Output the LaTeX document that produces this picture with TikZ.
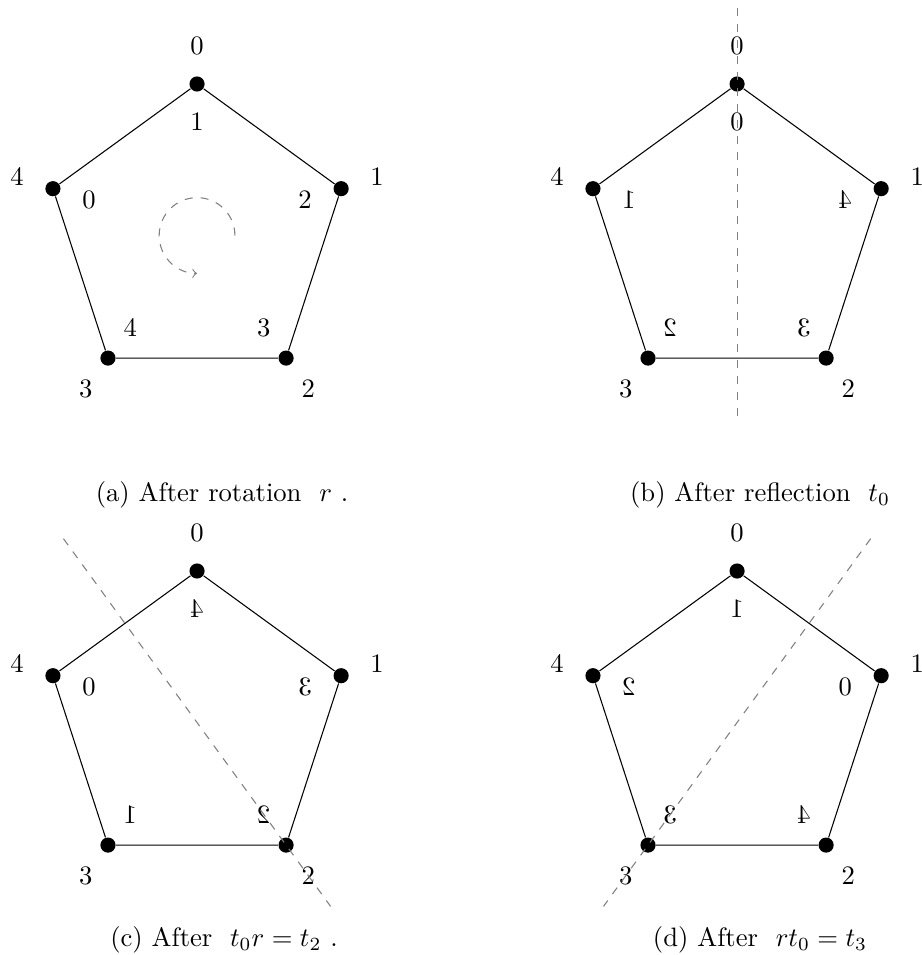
\documentclass[tikz,border=0pt]{standalone}
\begin{document}
\begin{tikzpicture}[
  vdot/.style={circle, fill=black, inner sep=0pt, minimum size=0.2cm},
  lab/.style={inner sep=0pt},
  mir/.style={inner sep=0pt, xscale=-1},
  axisline/.style={gray, dashed},
  pedge/.style={black},
  captext/.style={inner sep=0pt},
]
\useasboundingbox (-2.601,3.109) rectangle (9.558,-9.498);

% vertices, outer labels and edges of the four pentagons
\foreach \p/\sx/\sy in {a/0/0, b/7.129/0, c/0/-6.429, d/7.129/-6.429} {
  \begin{scope}[shift={(\sx,\sy)}]
    \foreach \k in {0,...,4} {
      \node[vdot] (\p\k) at ({90-72*\k}:2) {};
      \node[lab] (\p o\k) at ({90-72*\k}:2.5) {$\k$};
    }
    \draw[pedge] (\p0) -- (\p1) -- (\p2) -- (\p3) -- (\p4) -- (\p0);
  \end{scope}
}

% inner labels
\begin{scope}[shift={(0,0)}]
  \foreach \k/\v in {0/1,1/2,2/3,3/4,4/0}
    \node[lab] (ai\k) at ({90-72*\k}:1.5) {$\v$};
  \coordinate (rs) at (0.5,0);
  \draw[gray, dashed, ->] (rs) arc[start angle=0, end angle=270, radius=0.5];
\end{scope}
\begin{scope}[shift={(7.129,0)}]
  \foreach \k/\v in {0/0,1/4,2/3,3/2,4/1}
    \node[mir] (bi\k) at ({90-72*\k}:1.5) {$\v$};
  \coordinate (bt) at (0,3);
  \coordinate (bb) at (0,-2.4);
  \draw[axisline] (bt) -- (bb);
\end{scope}
\begin{scope}[shift={(0,-6.429)}]
  \foreach \k/\v in {0/4,1/3,2/2,3/1,4/0}
    \node[mir] (ci\k) at ({90-72*\k}:1.5) {$\v$};
  \coordinate (ct) at (126:3);
  \coordinate (cb) at (-54:3);
  \draw[axisline] (ct) -- (cb);
\end{scope}
\begin{scope}[shift={(7.129,-6.429)}]
  \foreach \k/\v in {0/1,1/0,2/4,3/3,4/2}
    \node[mir] (di\k) at ({90-72*\k}:1.5) {$\v$};
  \coordinate (dt) at (54:3);
  \coordinate (db) at (-126:3);
  \draw[axisline] (dt) -- (db);
\end{scope}

% captions
\node[captext] (capa) at (0.33,-3.426) {(a) After rotation \ $r$ .};
\node[captext] (capb) at (7.432,-3.426) {(b) After reflection \ $t_0$};
\node[captext] (capc) at (0.356,-9.30) {(c) After \ $t_0r=t_2$ .};
\node[captext] (capd) at (7.432,-9.30) {(d) After \ $rt_0=t_3$};
\end{tikzpicture}
\end{document}
